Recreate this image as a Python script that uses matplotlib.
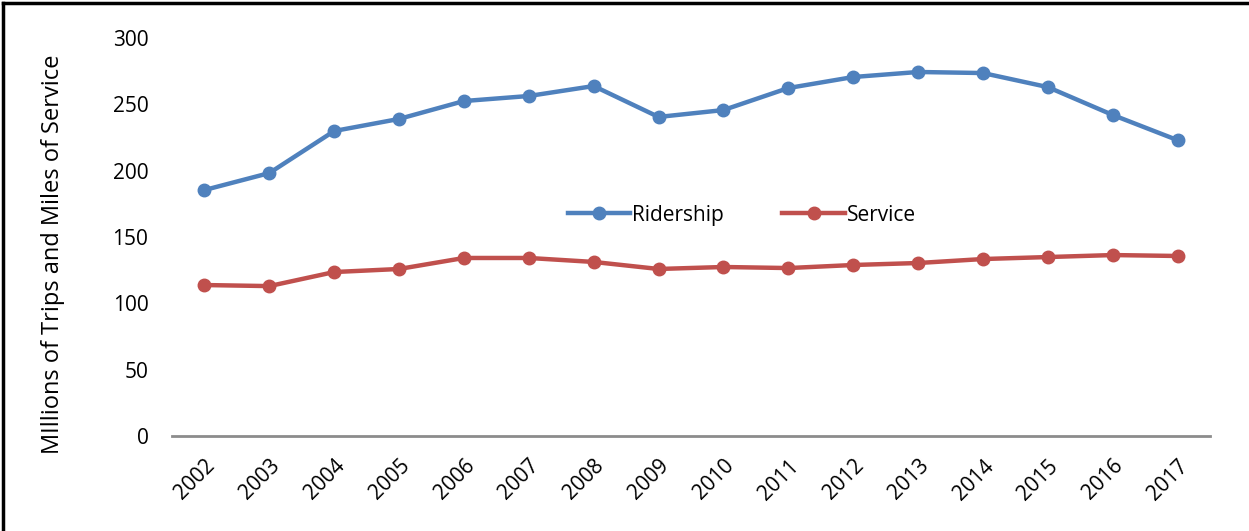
import matplotlib.pyplot as plt
from matplotlib.lines import Line2D

years = [str(y) for y in range(2002, 2018)]
ridership = [185.4, 198.2, 229.9, 239.0, 252.5, 256.3, 263.8, 240.5,
             245.7, 262.3, 270.6, 274.4, 273.6, 263.0, 242.0, 223.0]
service = [113.8, 113.0, 123.6, 125.9, 134.2, 134.2, 131.2, 125.9,
           127.4, 126.6, 128.9, 130.4, 133.4, 134.9, 136.4, 135.7]
y_ticks = [0, 50, 100, 150, 200, 250, 300]

plt.rcParams['font.family'] = ['Open Sans', 'DejaVu Sans']

fig = plt.figure(figsize=(12.49, 5.31), dpi=100)
ax = fig.add_axes([0.1377, 0.1789, 0.8311, 0.7495])

x = list(range(len(years)))
ax.plot(x, ridership, color='#4F81BD', lw=3.2, marker='o', ms=9, label='Ridership')
ax.plot(x, service, color='#C0504D', lw=3.2, marker='o', ms=9, label='Service')

ax.set_xlim(-0.5, len(years) - 0.5)
ax.set_ylim(0, 300)
ax.set_yticks(y_ticks)
ax.set_xticks(x)
ax.set_xticklabels(years, rotation=45, ha='right', rotation_mode='anchor')
ax.tick_params(axis='both', length=0, labelsize=15)
ax.tick_params(axis='y', pad=17)
ax.tick_params(axis='x', pad=14)

for side in ['top', 'right', 'left']:
    ax.spines[side].set_visible(False)
ax.spines['bottom'].set_color('#8c8c8c')
ax.spines['bottom'].set_linewidth(2)

ax.set_ylabel('MIllions of Trips and Miles of Service', fontsize=17, labelpad=34)
ax.yaxis.label.set_y(0.457)

ax.legend(loc='center', bbox_to_anchor=(0.549, 0.555), ncol=2, frameon=False,
          fontsize=15, handlelength=3, columnspacing=2.8, handletextpad=0.1)

# outer frame (top and left edges visible)
fig.add_artist(Line2D([3 / 1249, 3 / 1249], [0, 1 - 3 / 531], color='black', lw=2.5,
                      transform=fig.transFigure))
fig.add_artist(Line2D([3 / 1249, 1], [1 - 3 / 531, 1 - 3 / 531], color='black', lw=2.5,
                      transform=fig.transFigure))

fig.savefig('out.png', dpi=100)
